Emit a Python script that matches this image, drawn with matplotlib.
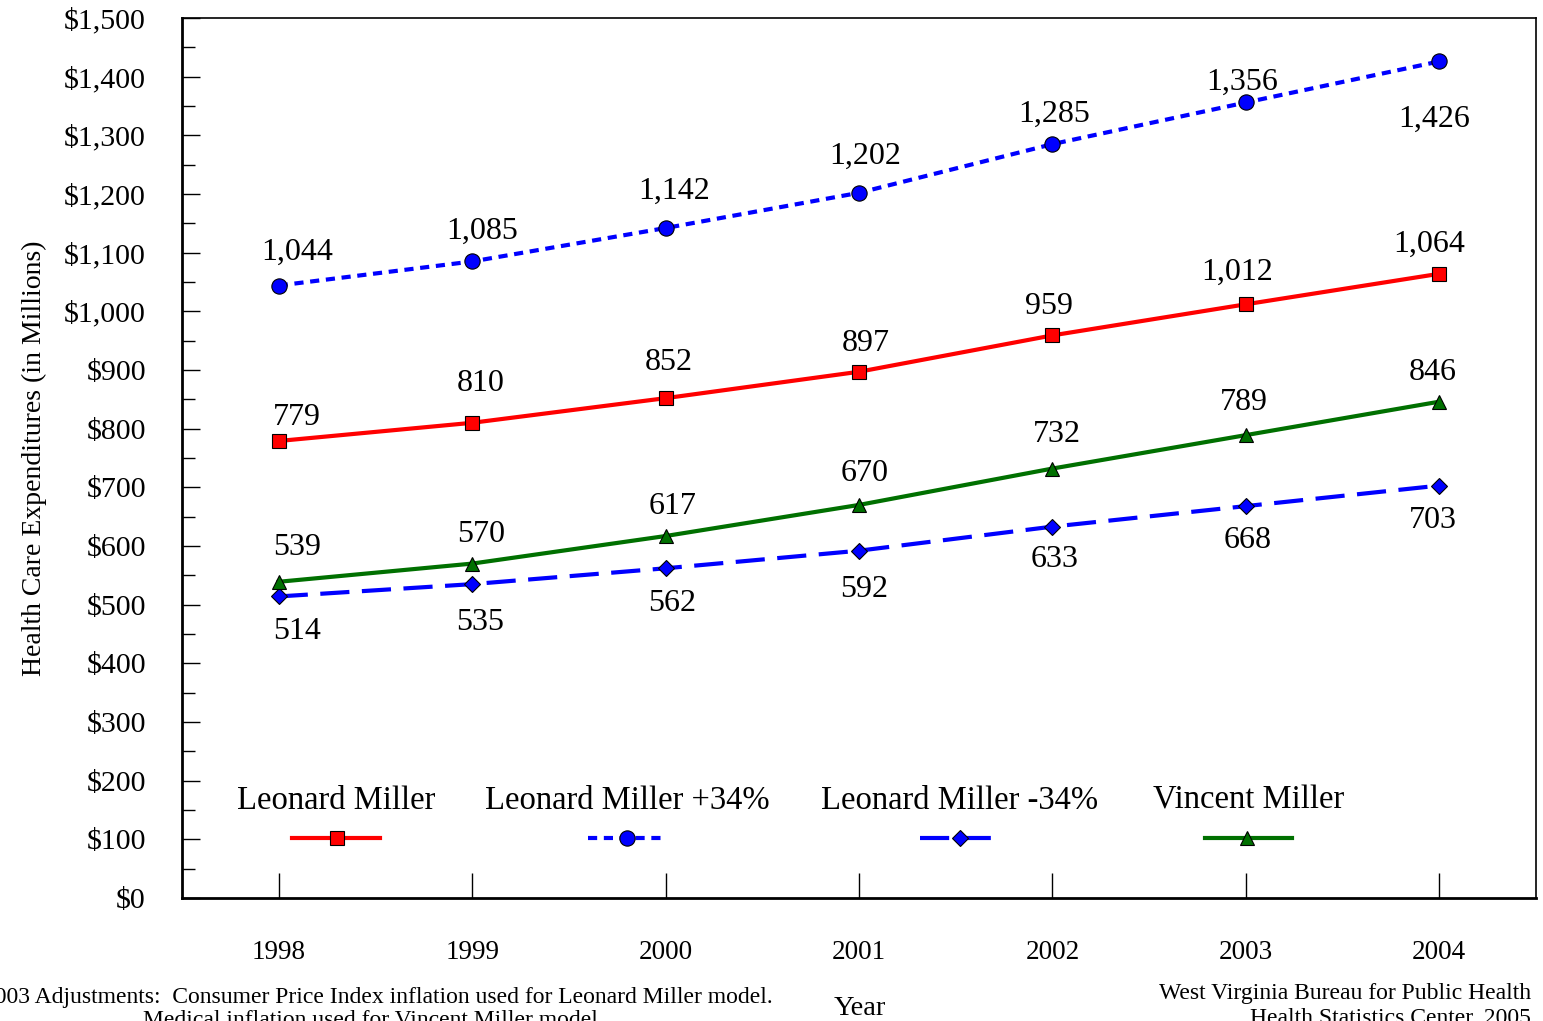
import matplotlib
matplotlib.use("Agg")
import matplotlib.pyplot as plt
from matplotlib.ticker import MultipleLocator, FuncFormatter

plt.rcParams["font.family"] = ["Liberation Serif", "DejaVu Serif"]

years = [1998, 1999, 2000, 2001, 2002, 2003, 2004]
leonard = [779, 810, 852, 897, 959, 1012, 1064]
leonard_plus = [1044, 1085, 1142, 1202, 1285, 1356, 1426]
leonard_minus = [514, 535, 562, 592, 633, 668, 703]
vincent = [539, 570, 617, 670, 732, 789, 846]

series_names = ["Leonard Miller", "Leonard Miller +34%", "Leonard Miller -34%", "Vincent Miller"]

fig = plt.figure(figsize=(15.43, 10.21), dpi=100)
ax = fig.add_axes([182 / 1543, 123 / 1021, 1354 / 1543, 880 / 1021])

PX = 0.72  # points per pixel at dpi 100

# label offsets (pixels, +y = down) per point
styles = [
    dict(data=leonard, color="#ff0000", ls="-", marker="s", ms=10,
         dx=[18, 8.5, 3, 6.5, -3, -8.5, -10], dy=[-23, -39, -36, -28, -29, -32, -29]),
    dict(data=leonard_plus, color="#0000ff", ls=(0, (2.2, 1.6)), marker="o", ms=11,
         dx=[18, 10.5, 9, 6.5, 2, -3.5, -5], dy=[-33.5, -30, -37, -36, -30, -20, 58]),
    dict(data=leonard_minus, color="#0000ff", ls=(0, (7, 3)), marker="D", ms=8,
         dx=[18, 7.5, 7, 5.5, 2, 1.5, -6], dy=[35, 38, 35, 39, 33, 34, 35]),
    dict(data=vincent, color="#007000", ls="-", marker="^", ms=10,
         dx=[18, 8.5, 7, 5.5, 4, -1.5, -7], dy=[-34, -29, -30, -31, -34, -33, -29]),
]

for st in styles:
    ax.plot(years, st["data"], color=st["color"], linestyle=st["ls"], linewidth=3,
            marker=st["marker"], markersize=st["ms"], markerfacecolor=st["color"],
            markeredgecolor="black", markeredgewidth=0.8, zorder=3)
    for x, v, dx, dy in zip(years, st["data"], st["dx"], st["dy"]):
        ax.annotate(f"{v:,}", (x, v), xytext=(dx * PX, -dy * PX),
                    textcoords="offset points", ha="center", va="center", fontsize=23)

# legend: label above its line sample
leg_text_x = [0.1137, 0.329, 0.5746, 0.788]
leg_line = [(0.0812, 0.1462), (0.300, 0.357), (0.545, 0.606), (0.7555, 0.8198)]
leg_mark_x = [0.1144, 0.329, 0.5746, 0.7866]
for name, st, tx, (l0, l1), mx in zip(series_names, styles, leg_text_x, leg_line, leg_mark_x):
    ax.text(tx, 0.111, name, transform=ax.transAxes, ha="center", va="center", fontsize=23.5)
    ax.plot([l0, l1], [0.068, 0.068], transform=ax.transAxes, color=st["color"],
            linestyle=st["ls"], linewidth=3, clip_on=False)
    ax.plot([mx], [0.068], transform=ax.transAxes, marker=st["marker"], markersize=st["ms"],
            color=st["color"], markeredgecolor="black", markeredgewidth=0.8, clip_on=False)

ax.set_xlim(1997.5, 2004.5)
ax.set_ylim(0, 1500)
ax.set_xticks(years)
ax.yaxis.set_major_locator(MultipleLocator(100))
ax.yaxis.set_minor_locator(MultipleLocator(50))
ax.yaxis.set_major_formatter(FuncFormatter(lambda v, p: f"${v:,.0f}"))

ax.tick_params(axis="y", which="major", direction="in", length=13, width=1, labelsize=21.5, pad=26)
ax.tick_params(axis="y", which="minor", direction="in", length=9, width=1)
ax.tick_params(axis="x", which="major", direction="in", length=18, width=1, labelsize=19.5, pad=30)

for side in ["left", "bottom"]:
    ax.spines[side].set_linewidth(2)
for side in ["top", "right"]:
    ax.spines[side].set_linewidth(1.2)

ax.set_ylabel("Health Care Expenditures (in Millions)", fontsize=20)
ax.yaxis.set_label_coords(-0.1, 0.5)
fig.text(860 / 1543, 1 - 1008 / 1021, "Year", ha="center", va="center", fontsize=20.5)

fig.text(773 / 1543, 1 - 997 / 1021,
         "2003 Adjustments:  Consumer Price Index inflation used for Leonard Miller model.",
         ha="right", va="center", fontsize=17)
fig.text(143 / 1543, 1 - 1021 / 1021, "Medical inflation used for Vincent Miller model.",
         ha="left", va="center", fontsize=17)
fig.text(1531 / 1543, 1 - 993 / 1021, "West Virginia Bureau for Public Health",
         ha="right", va="center", fontsize=17)
fig.text(1531 / 1543, 1 - 1019 / 1021, "Health Statistics Center, 2005",
         ha="right", va="center", fontsize=17)

fig.savefig("out.png", dpi=100)
